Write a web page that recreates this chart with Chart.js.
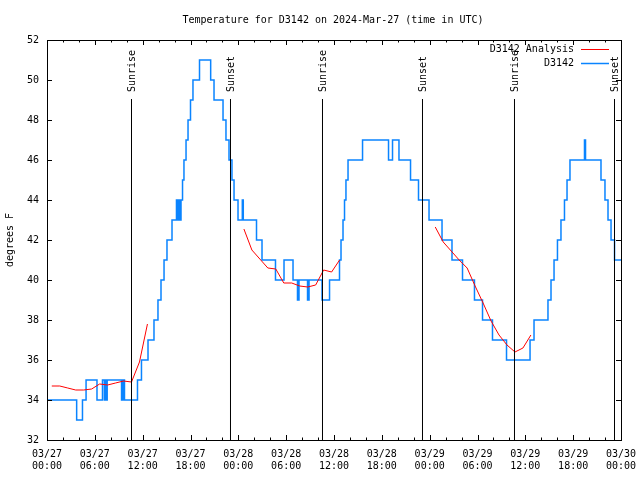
<!DOCTYPE html>
<html>
<head>
<meta charset="utf-8">
<script src="https://cdn.jsdelivr.net/npm/chart.js@4/dist/chart.umd.min.js"></script>
<style>
body{margin:0;background:#fff}
#wrap{width:640px;height:480px}
</style>
</head>
<body>
<div id="wrap"><canvas id="chart" width="640" height="480"></canvas></div>
<script>
// hours since 03/27 00:00 UTC
var blue_hours = [0,3.72,4.45,4.9,6.27,6.96,7.2,7.34,7.43,7.55,9.35,9.53,9.72,11.35,11.85,12.67,13.42,13.92,14.3,14.68,15.05,15.68,16.24,16.43,16.56,16.68,16.81,17.0,17.18,17.44,17.69,18.0,18.31,19.13,20.53,20.95,22.08,22.45,22.83,23.2,23.46,23.96,24.5,24.62,26.28,26.97,28.66,29.73,30.86,31.42,31.61,32.68,32.87,34.5,35.44,36.69,36.88,37.13,37.32,37.5,37.76,39.58,42.84,43.34,44.15,45.6,46.6,47.92,49.55,50.8,52.12,53.62,54.63,55.88,57.64,60.59,61.09,62.84,63.22,63.6,64.03,64.47,64.91,65.23,65.6,67.42,67.55,69.49,69.99,70.37,70.75,71.19,72];
var blue_temps = [34,33,34,35,34,35,34,35,34,35,34,35,34,35,36,37,38,39,40,41,42,43,44,43,44,43,44,45,46,47,48,49,50,51,50,49,48,47,46,45,44,43,44,43,42,41,40,41,40,39,40,39,40,39,40,41,42,43,44,45,46,47,46,47,46,45,44,43,42,41,40,39,38,37,36,37,38,39,40,41,42,43,44,45,46,47,46,45,44,43,42,41,41];

var red_hours = [0.6,1.6,2.6,3.6,4.6,5.6,6.6,7.6,8.6,9.6,10.6,11.6,12.6,18,
  24.7,25.7,26.7,27.7,28.7,29.7,30.7,31.7,32.7,33.7,34.7,35.7,36.7,42,
  48.7,49.7,50.7,51.7,52.7,53.7,54.7,55.7,56.7,57.7,58.7,59.7,60.7];
var red_temps = [34.7,34.7,34.6,34.5,34.5,34.55,34.8,34.75,34.85,34.95,34.9,35.9,37.8,null,
  42.55,41.5,41.05,40.6,40.55,39.85,39.85,39.7,39.65,39.75,40.5,40.4,41.0,null,
  42.65,41.9,41.45,41.0,40.6,39.7,38.85,37.95,37.25,36.75,36.4,36.6,37.25];

var sun_hours = [10.6,23.017,34.557,47.101,58.641,71.185];
var sun_names = ["Sunrise","Sunset","Sunrise","Sunset","Sunrise","Sunset"];
var sun_top = 49.05;

var tick_dates = ["03/27","03/27","03/27","03/27","03/28","03/28","03/28","03/28","03/29","03/29","03/29","03/29","03/30"];
var tick_times = ["00:00","06:00","12:00","18:00"];

var FONT = "'DejaVu Sans Mono', monospace";

function pts(xs, ys) {
	var out = [];
	for (var i = 0; i < xs.length; i++) out.push({x: xs[i], y: ys[i]});
	return out;
}

var sun_pts = [];
for (var i = 0; i < sun_hours.length; i++) {
	sun_pts.push({x: sun_hours[i], y: 32});
	sun_pts.push({x: sun_hours[i], y: sun_top});
	sun_pts.push({x: sun_hours[i], y: null});
}

var decor = {
	id: 'decor',
	afterDatasetsDraw: function (chart) {
		var ctx = chart.ctx, a = chart.chartArea;
		var xs = chart.scales.x, ys = chart.scales.y;
		ctx.save();
		ctx.strokeStyle = '#000';
		ctx.lineWidth = 1;
		ctx.beginPath();
		// x ticks, every 2h, major every 6h
		for (var h = 0; h <= 72; h += 2) {
			var px = Math.round(xs.getPixelForValue(h)) + 0.5;
			var len = (h % 6 == 0) ? 5 : 2.5;
			ctx.moveTo(px, a.bottom); ctx.lineTo(px, a.bottom - len);
			ctx.moveTo(px, a.top); ctx.lineTo(px, a.top + len);
		}
		for (var v = 32; v <= 52; v += 2) {
			var py = Math.round(ys.getPixelForValue(v)) + 0.5;
			ctx.moveTo(a.left, py); ctx.lineTo(a.left + 5, py);
			ctx.moveTo(a.right, py); ctx.lineTo(a.right - 5, py);
		}
		ctx.stroke();
		ctx.strokeRect(Math.round(a.left) + 0.5, Math.round(a.top) + 0.5, Math.round(a.right - a.left), Math.round(a.bottom - a.top));

		ctx.fillStyle = '#000';
		ctx.font = '10px ' + FONT;
		// sun labels
		for (var i = 0; i < sun_hours.length; i++) {
			var sx = xs.getPixelForValue(sun_hours[i]);
			ctx.save();
			ctx.translate(sx + 1, 92);
			ctx.rotate(-Math.PI / 2);
			ctx.textAlign = 'left';
			ctx.textBaseline = 'middle';
			ctx.fillText(sun_names[i], 0, 0);
			ctx.restore();
		}
		// title
		ctx.textAlign = 'center';
		ctx.textBaseline = 'middle';
		ctx.fillText('Temperature for D3142 on 2024-Mar-27 (time in UTC)', 333, 20);
		// legend
		ctx.textAlign = 'right';
		ctx.fillText('D3142 Analysis', 574, 49);
		ctx.fillText('D3142', 574, 63);
		ctx.strokeStyle = '#ff0000';
		ctx.beginPath(); ctx.moveTo(581, 49.5); ctx.lineTo(609, 49.5); ctx.stroke();
		ctx.strokeStyle = '#0a84ff';
		ctx.lineWidth = 1.5;
		ctx.beginPath(); ctx.moveTo(581, 63.5); ctx.lineTo(609, 63.5); ctx.stroke();
		ctx.restore();
	}
};

new Chart(document.getElementById('chart'), {
	type: 'line',
	data: {
		datasets: [
			{
				label: 'sun',
				data: sun_pts,
				borderColor: '#000',
				borderWidth: 1,
				pointRadius: 0,
				spanGaps: false
			},
			{
				label: 'D3142 Analysis',
				data: pts(red_hours, red_temps),
				borderColor: '#ff0000',
				borderWidth: 1,
				pointRadius: 0,
				spanGaps: false,
				tension: 0
			},
			{
				label: 'D3142',
				data: pts(blue_hours, blue_temps),
				borderColor: '#0a84ff',
				borderWidth: 1.5,
				pointRadius: 0,
				stepped: 'before'
			}
		]
	},
	options: {
		responsive: false,
		animation: false,
		devicePixelRatio: 1,
		layout: {padding: {top: 40, right: 19, left: 0, bottom: 0}},
		plugins: {legend: {display: false}, title: {display: false}, tooltip: {enabled: false}},
		scales: {
			x: {
				type: 'linear',
				min: 0,
				max: 72,
				grid: {display: false, drawTicks: false},
				border: {display: false},
				ticks: {
					stepSize: 6,
					autoSkip: false,
					maxRotation: 0,
					padding: 8,
					color: '#000',
					font: {family: FONT, size: 10, lineHeight: 1.2},
					callback: function (v) {
						var k = Math.round(v / 6);
						return [tick_dates[k], tick_times[k % 4]];
					}
				},
				afterFit: function (s) { s.height = 40; s.paddingLeft = 0; s.paddingRight = 0; }
			},
			y: {
				min: 32,
				max: 52,
				grid: {display: false, drawTicks: false},
				border: {display: false},
				ticks: {
					stepSize: 2,
					padding: 8,
					color: '#000',
					font: {family: FONT, size: 10}
				},
				title: {
					display: true,
					text: 'degrees F',
					color: '#000',
					padding: {top: 4, bottom: 0},
					font: {family: FONT, size: 10}
				},
				afterFit: function (s) { s.width = 47; }
			}
		}
	},
	plugins: [decor]
});
</script>
</body>
</html>
